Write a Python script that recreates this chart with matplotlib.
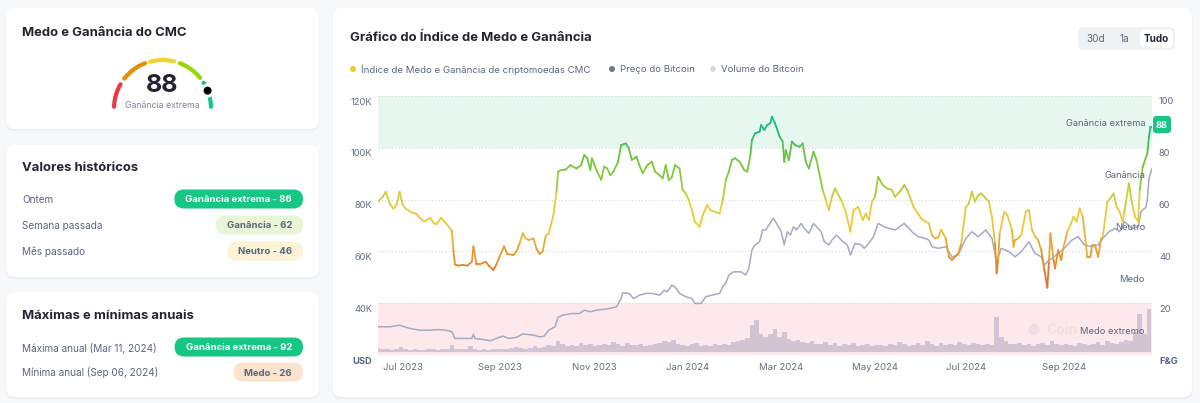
import matplotlib
matplotlib.use('Agg')
import matplotlib.pyplot as plt
from matplotlib.patches import FancyBboxPatch, Circle
from matplotlib.collections import LineCollection
from matplotlib.colors import LinearSegmentedColormap, Normalize
from matplotlib.transforms import ScaledTranslation, blended_transform_factory
import matplotlib.dates as mdates
import numpy as np
import pandas as pd

# ---------------- data ----------------
start_date = '2023-06-29'
end_date = '2024-11-13'

fg_day = [0, 3, 5, 8, 10, 12, 14, 16, 18, 22, 25, 27, 30, 34, 36, 38, 41, 44, 48, 49, 50, 52, 55, 58,
          61, 62, 64, 66, 70, 72, 75, 77, 79, 82, 84, 88, 90, 92, 94, 96, 98, 101, 103, 105, 107, 109,
          111, 114, 116, 117, 119, 122, 125, 129, 132, 134, 136, 138, 139, 142, 145, 147, 149, 151, 153,
          156, 158, 161, 163, 165, 168, 170,
          172, 175, 178, 180, 183, 185, 187, 189, 191, 193, 196, 198, 200, 202, 204, 206, 209, 211, 214,
          216, 219, 222, 224, 226, 228, 230, 232, 235, 238, 240, 242, 243, 245, 248, 249, 251, 253, 255,
          256, 258, 261, 263, 264, 265, 267, 269, 271, 274, 276, 278, 280, 283, 285, 289, 291, 293, 295,
          297, 301, 304, 307, 309, 312, 315, 317, 319, 321, 323, 325, 328, 331, 334, 336, 339, 342, 344,
          346, 348, 351, 353,
          356, 358, 360, 362, 364, 366, 369, 371, 373, 375, 377, 379, 382, 384, 386, 388, 390, 392, 395,
          397, 399, 401, 402, 403, 404, 407, 409, 411, 412, 413, 414, 416, 418, 421, 423, 425, 427, 429,
          431, 433, 435, 436, 437, 439, 440, 442, 444, 445, 448, 450, 452, 454, 456, 458, 461, 463, 464,
          466, 468, 470, 471, 474, 476, 478, 480, 482, 484, 485, 488, 490, 492, 494, 495, 497, 500, 501,
          502, 503]
fg_value = [59.2, 61, 63, 58, 56.5, 58, 63, 58, 56.5, 55, 54.5, 53, 51.5, 53, 51, 50.5, 53, 51, 48, 40.5,
            35, 34.5, 34.8, 34.5, 36, 41.9, 35, 35, 36, 34.5, 32.8, 35, 38, 42, 39, 38.6, 40, 43, 47, 45,
            44.4, 45, 41, 39, 40, 46, 47, 54, 63, 70.8, 71.4, 71.6, 73.3, 72, 73.3, 77.2, 76, 71.4, 76,
            71.4, 67.6, 72.7, 72, 69.4, 70.8, 74.6, 81, 81.7, 79.8, 75.3, 76.6, 73,
            70.2, 73.3, 74.6, 70.8, 69.4, 68.2, 73.3, 67.5, 68.8, 73.3, 72, 63.7, 62.4, 59.8, 55.9, 51.4,
            49.5, 54, 57.9, 55.9, 55.3, 54.6, 59.8, 67.5, 70.8, 75.3, 76, 74.6, 71.4, 70.8, 77.2, 83,
            85.6, 86.2, 88.8, 86.9, 88.8, 89.5, 92, 89.5, 84.3, 82.4, 74.6, 79.1, 75.3, 82.4, 81.1, 80.4,
            81.7, 74.6, 72, 78.5, 75.3, 63.7, 59.8, 55.9, 61.1, 64.3, 59.8, 55.3, 47.6, 55.9, 57.2, 52.1,
            54.6, 52.1, 59.2, 61.1, 68.8, 65.6, 64.3, 63.7, 61.1, 63, 65.6, 63.7, 60.5, 57.2, 54.6, 52.7,
            51.5, 50.8, 46.3, 45, 45.4, 48.3, 45, 37.9, 36.7, 37.9, 39.2, 43, 57.2, 58.5, 63, 59.2, 61.7,
            62.4, 60.5, 59.2, 53.4, 43, 31.5, 36.7, 47, 55.3, 54, 50.2, 48.3, 41.8, 44.4, 45, 46.3, 55.3,
            56, 48.3, 45.7, 44.4, 40.5, 33, 26, 36, 47, 36.7, 33.4, 40.5, 36.7, 40.5, 47.6, 50.2, 53.4,
            51.5, 56.6, 53.4, 37.9, 37.9, 42.4, 42.4, 37.9, 45, 45.7, 59.2, 60.5, 62.4, 57.2, 55.3, 51.5,
            55.3, 66.3, 58.5, 53.4, 51.5, 63.7, 72.7, 77.9, 84, 88, 88]

price_day = [0, 8, 14, 21, 27, 34, 40, 44, 48, 50, 55, 61, 62, 63, 68, 73, 77, 81, 85, 90, 94, 101, 105,
             108, 111, 115, 117, 120, 126, 131, 134, 138, 142, 146, 150, 155, 158, 159, 163, 166, 170,
             174, 178, 183, 186, 188, 191, 193, 196, 200, 204, 206, 210, 213, 217, 222, 224, 226, 228,
             231, 236, 239, 241, 243, 245, 248, 250, 252, 254, 257, 259, 262, 264, 266, 268, 270, 272,
             275, 277, 280, 283, 285, 288, 290, 293, 295, 298, 302, 305, 307, 310, 314, 316, 319, 322,
             325, 329, 332, 336, 339, 342, 345, 348, 351, 355, 358, 360, 364, 369, 373, 377, 382, 386,
             390, 395, 399, 402, 405, 410, 414, 418, 423, 427, 431, 433, 436, 438, 442, 446, 451, 455,
             459, 464, 468, 471, 475, 479, 482, 485, 490, 494, 496, 499, 500, 501, 503]
price_k = [30.9, 30.9, 31.5, 30.2, 29.6, 29.6, 29.8, 29.6, 29.0, 26.4, 26.4, 26.4, 28, 26.4, 26, 25.5,
           26.4, 27.3, 26.4, 26.8, 28.1, 27.7, 27, 27.3, 29.6, 30.9, 34.5, 35.4, 36, 36, 37.3, 36.7,
           37.3, 37.6, 37.9, 38.6, 41.8, 44, 43.8, 41.8, 43.1, 43.8, 43.8, 43.1, 45, 44.4, 47, 46.3,
           43.8, 42.5, 41.8, 39.9, 39.9, 42.5, 43.1, 43.8, 46.3, 47.7, 50.9, 52.1, 52.1, 50.9, 53.5,
           60.6, 62.5, 63.8, 68.3, 68.3, 70.2, 72.8, 70.8, 67.6, 62.5, 67.6, 66.3, 69.5, 68.3, 70.8,
           68.9, 67, 70.8, 69.5, 67.6, 63.8, 62.5, 64.4, 66.3, 63.8, 62.5, 58.6, 63.1, 62.5, 61.2, 63.1,
           65.7, 70.8, 69.5, 68.9, 68.3, 69.5, 70.8, 68.9, 67, 65.7, 65.1, 64.4, 61.8, 61.2, 61.8, 57.9,
           58.6, 65, 67.6, 65.7, 68.3, 65, 56, 61.2, 59.9, 57.9, 59.9, 63.7, 59.2, 57.9, 54.7, 56.6,
           57.3, 59.2, 61.2, 64.4, 65.7, 62.5, 61.8, 62.5, 65, 67.6, 68.9, 67.6, 71.5, 68.9, 69.5, 75.5,
           77, 80, 88, 92]

volume_step_days = 3
volume_b = [12, 8, 10, 7, 9, 15, 8, 6, 10, 7, 6, 9, 8, 7, 9, 8, 20, 10, 8, 9, 18, 8, 7, 10, 6, 9, 8, 10,
            9, 12,
            14, 11, 10, 13, 16, 12, 15, 20, 18, 32,
            22, 18, 20, 16, 25, 19, 22, 17, 21, 24,
            20, 28, 22, 18, 26, 21, 19, 24, 17, 20,
            22, 25, 30, 28, 35, 24, 20, 18, 22, 26,
            18, 20, 16, 22, 19, 24, 21, 28, 30, 35,
            40, 75, 90, 52, 44, 50, 65, 42, 58, 38,
            30, 35, 28, 26, 32, 24, 22, 28, 20, 25,
            18, 22, 20, 26, 17, 19, 24, 16, 21, 20,
            18, 24, 20, 28, 22, 17, 19, 25, 21, 30,
            22, 18, 26, 20, 24, 19, 28, 22, 20, 25,
            22, 19, 24, 20, 98, 42, 30, 24, 22, 25,
            20, 24, 18, 22, 26, 20, 30, 24, 19, 22,
            20, 18, 25, 22, 19, 24, 28, 21, 30, 26,
            24, 28, 35, 30, 58, 108, 52, 120]

gauge_value = 88
gauge_label = 'Ganância extrema'

hist_labels = ['Ontem', 'Semana passada', 'Mês passado']
hist_badges = ['Ganância extrema - 86', 'Ganância - 62', 'Neutro - 46']
hist_kinds = ['xgreed', 'greed', 'neutral']

year_labels = ['Máxima anual (Mar 11, 2024)', 'Mínima anual (Sep 06, 2024)']
year_badges = ['Ganância extrema - 92', 'Medo - 26']
year_kinds = ['xgreed', 'fear']

zone_names = ['Medo extremo', 'Medo', 'Neutro', 'Ganância', 'Ganância extrema']
zone_centers = [10, 30, 50, 70, 90]

price_ticks = [20, 40, 60, 80, 100, 120]
price_ticklabels = ['USD', '40K', '60K', '80K', '100K', '120K']
fg_ticks = [0, 20, 40, 60, 80, 100]
fg_ticklabels = ['F&G', '20', '40', '60', '80', '100']
xtick_dates = ['2023-07-01', '2023-09-01', '2023-11-01', '2024-01-01', '2024-03-01', '2024-05-01',
               '2024-07-01', '2024-09-01']
xtick_labels = ['Jul 2023', 'Sep 2023', 'Nov 2023', 'Jan 2024', 'Mar 2024', 'May 2024', 'Jul 2024',
                'Sep 2024']

legend_labels = ['Índice de Medo e Ganância de criptomoedas CMC', 'Preço do Bitcoin', 'Volume do Bitcoin']
legend_colors = ['#f0cd32', '#6e7890', '#d4d9e3']
range_buttons = ['30d', '1a', 'Tudo']

# ---------------- style ----------------
plt.rcParams['font.family'] = ['Inter', 'DejaVu Sans']
DARK = '#222531'
GREY = '#58667e'
W, H = 1200, 403
fig = plt.figure(figsize=(W / 100, H / 100), dpi=100)
fig.patch.set_facecolor('#f7f8fa')
renderer = fig.canvas.get_renderer()

bg = fig.add_axes([0, 0, 1, 1], zorder=0)
bg.set_xlim(0, W)
bg.set_ylim(H, 0)
bg.axis('off')


def card(x0, y0, x1, y1):
    bg.add_patch(FancyBboxPatch((x0 - 0.5, y0 + 1.0), x1 - x0 + 1, y1 - y0 + 1,
                                boxstyle='round,pad=0,rounding_size=9', fc='#eceff3', ec='none', zorder=0.5))
    bg.add_patch(FancyBboxPatch((x0, y0), x1 - x0, y1 - y0,
                                boxstyle='round,pad=0,rounding_size=9', fc='white', ec='none', zorder=1))


card(6, 8, 319, 129)
card(6, 145, 319, 277)
card(6, 292, 319, 397)
card(333, 8, 1192, 397)

badge_styles = {'xgreed': ('#16c784', 'white'), 'greed': ('#e9f5d6', GREY),
                'neutral': ('#fdf3d6', GREY), 'fear': ('#fce3cb', GREY)}


def badge(right, yc, text, kind, h=19, pad=11):
    fc, tc = badge_styles[kind]
    t = bg.text(right - pad, yc, text, ha='right', va='center_baseline', fontsize=6.9,
                fontweight='bold', color=tc, zorder=5)
    w = t.get_window_extent(renderer).width + 2 * pad
    bg.add_patch(FancyBboxPatch((right - w, yc - h / 2), w, h,
                                boxstyle=f'round,pad=0,rounding_size={h / 2}', fc=fc, ec='none', zorder=4))


# card 1: gauge
bg.text(22, 33, 'Medo e Ganância do CMC', fontsize=9.4, fontweight='bold', color=DARK, va='center')
cx, cy, R = 162.5, 108.5, 48.5
gauge_segments = [(178, 150, '#ea3943'), (142, 111, '#ea8c00'), (105, 76, '#f3d42f'),
                  (69, 39, '#93d900'), (32, 2, '#16c784')]
for a0, a1, c in gauge_segments:
    th = np.radians(np.linspace(a0, a1, 50))
    bg.plot(cx + R * np.cos(th), cy - R * np.sin(th), color=c, lw=3.0, solid_capstyle='round', zorder=3)
th = np.radians(180 - 1.8 * gauge_value)
px, py = cx + R * np.cos(th), cy - R * np.sin(th)
bg.add_patch(Circle((px, py), 7, fc='white', ec='none', zorder=4))
bg.add_patch(Circle((px, py), 4, fc='black', ec='none', zorder=5))
bg.text(cx, 86, str(gauge_value), ha='center', va='center', fontsize=18, fontweight='bold', color=DARK)
bg.text(cx, 105, gauge_label, ha='center', va='center', fontsize=6.3, color='#7d8699')

# card 2
bg.text(22, 168, 'Valores históricos', fontsize=9.4, fontweight='bold', color=DARK, va='center')
for i, (lab, btxt, kind) in enumerate(zip(hist_labels, hist_badges, hist_kinds)):
    y = 199 + i * 26
    bg.text(22, y, lab, fontsize=7.2, color=GREY, va='center_baseline')
    badge(303, y, btxt, kind)

# card 3
bg.text(22, 316, 'Máximas e mínimas anuais', fontsize=9.4, fontweight='bold', color=DARK, va='center')
for i, (lab, btxt, kind) in enumerate(zip(year_labels, year_badges, year_kinds)):
    y = 347 + i * 25
    bg.text(22, y, lab, fontsize=7.2, color=GREY, va='center_baseline')
    badge(303, y, btxt, kind)

# chart card header
bg.text(350, 38, 'Gráfico do Índice de Medo e Ganância', fontsize=9.4, fontweight='bold', color=DARK,
        va='center')
lx = [353, 612, 713]
for x, lab, c in zip(lx, legend_labels, legend_colors):
    bg.add_patch(Circle((x, 69), 3, fc=c, ec='none', zorder=3))
    bg.text(x + 8, 69, lab, fontsize=6.9, color=GREY, va='center_baseline')

bg.add_patch(FancyBboxPatch((1078, 27), 97, 23, boxstyle='round,pad=0,rounding_size=6',
                            fc='#eff2f5', ec='none', zorder=2))
bg.add_patch(FancyBboxPatch((1140, 29.5), 33, 18, boxstyle='round,pad=0,rounding_size=5',
                            fc='white', ec='none', zorder=3))
for x, lab in zip([1095.5, 1124, 1156.5], range_buttons):
    bold = lab == 'Tudo'
    bg.text(x, 38.5, lab, ha='center', va='center_baseline', fontsize=7.2,
            fontweight='bold' if bold else 'normal', color=DARK if bold else GREY, zorder=4)

# ---------------- chart ----------------
L, Rr, T, B = 378, 1152, 96, 355
rect = [L / W, 1 - B / H, (Rr - L) / W, (B - T) / H]
t0 = pd.Timestamp(start_date)
ax = fig.add_axes(rect, zorder=2)
ax.set_facecolor('none')
ax.set_xlim(t0, pd.Timestamp(end_date))
ax.set_ylim(0, 100)
ax.axhspan(80, 100, color='#e6f7f0', lw=0, zorder=0)
ax.axhspan(0, 20, color='#fde9ec', lw=0, zorder=0)
for v in fg_ticks:
    ax.axhline(v, color='#d3d8e0', lw=0.8, ls=(0, (1, 2)), zorder=1)
ax.set_yticks([])
ax.set_xticks(pd.to_datetime(xtick_dates), xtick_labels)
ax.tick_params(axis='x', length=0, pad=6, labelsize=6.9, labelcolor='#616e85')
for lab in ax.get_xticklabels():
    lab.set_ha('left')
    lab.set_transform(lab.get_transform() + ScaledTranslation(2 / 100, 0, fig.dpi_scale_trans))
for s in ax.spines.values():
    s.set_visible(False)

# watermark
ax.text(1034, 330, '\u25CF', transform=bg.transData, fontsize=11, color='#f5dce1', ha='center',
        va='center', zorder=1.5)
ax.text(1046, 330, 'Coin', transform=bg.transData, fontsize=10, color='#f5dce1',
        ha='left', va='center', zorder=1.5, fontweight='bold')

# volume
axv = ax.twinx()
axv.set_zorder(3)
axv.patch.set_visible(False)
vol_dates = pd.date_range(start_date, periods=len(volume_b), freq=f'{volume_step_days}D')
axv.bar(vol_dates, volume_b, width=volume_step_days, color='#d3c4d4', lw=0)
axv.set_ylim(-8, 720)
axv.set_yticks([])
for s in axv.spines.values():
    s.set_visible(False)

# price
axp = ax.twinx()
axp.set_zorder(4)
axp.patch.set_visible(False)
price_dates = t0 + pd.to_timedelta(price_day, unit='D')
axp.plot(price_dates, price_k, color='#a4aac0', lw=1.1, solid_joinstyle='round')
axp.set_ylim(20, 120)
axp.yaxis.tick_left()
axp.set_yticks(price_ticks, price_ticklabels)
axp.tick_params(axis='y', length=0, pad=4, labelsize=6.7, labelcolor='#616e85')
for lab in axp.get_yticklabels():
    lab.set_transform(lab.get_transform() + ScaledTranslation(0, -5 / 100, fig.dpi_scale_trans))
axp.get_yticklabels()[0].set_fontweight('bold')
axp.get_yticklabels()[0].set_color(GREY)
for s in axp.spines.values():
    s.set_visible(False)

# fear & greed
axf = ax.twinx()
axf.set_zorder(5)
axf.patch.set_visible(False)
axf.set_ylim(0, 100)
fg_dates = mdates.date2num(t0 + pd.to_timedelta(fg_day, unit='D'))
fv = np.asarray(fg_value, float)
pts = np.column_stack([fg_dates, fv])
segs = np.stack([pts[:-1], pts[1:]], axis=1)
cmap = LinearSegmentedColormap.from_list('fg', [(0, '#ea3943'), (0.2, '#ea3943'), (0.36, '#e58a2a'),
                                                (0.5, '#ecc93a'), (0.58, '#e5cd3a'),
                                                (0.68, '#8fcb3a'), (0.80, '#5cc044'),
                                                (0.86, '#1db97c'), (1.0, '#16c784')])
lc = LineCollection(segs, cmap=cmap, norm=Normalize(0, 100), lw=1.3, capstyle='round', joinstyle='round')
lc.set_array((fv[:-1] + fv[1:]) / 2)
axf.add_collection(lc)
axf.yaxis.tick_right()
axf.set_yticks(fg_ticks, fg_ticklabels)
axf.tick_params(axis='y', length=0, pad=5, labelsize=6.7, labelcolor='#616e85')
for lab in axf.get_yticklabels():
    lab.set_transform(lab.get_transform() + ScaledTranslation(0, -5 / 100, fig.dpi_scale_trans))
axf.get_yticklabels()[0].set_fontweight('bold')
axf.get_yticklabels()[0].set_color(GREY)
for s in axf.spines.values():
    s.set_visible(False)

tr = blended_transform_factory(bg.transData, axf.transData)
for name, v in zip(zone_names, zone_centers):
    axf.text(1145, v - 0.8, name, transform=tr, ha='right', va='center', fontsize=6.7, color=GREY,
             zorder=6)

# current value badge
yb_disp = axf.transData.transform((0, fv[-1] + 1))[1]
yb = bg.transData.inverted().transform((0, yb_disp))[1]
bg.add_patch(FancyBboxPatch((1153, yb - 8.5), 18, 17, boxstyle='round,pad=0,rounding_size=3',
                            fc='#16c784', ec='none', zorder=6))
bg.text(1162, yb, f'{fg_value[-1]:.0f}', ha='center', va='center_baseline', fontsize=6.7,
        fontweight='bold', color='white', zorder=7)

fig.savefig('out.png', dpi=100, facecolor=fig.get_facecolor())
